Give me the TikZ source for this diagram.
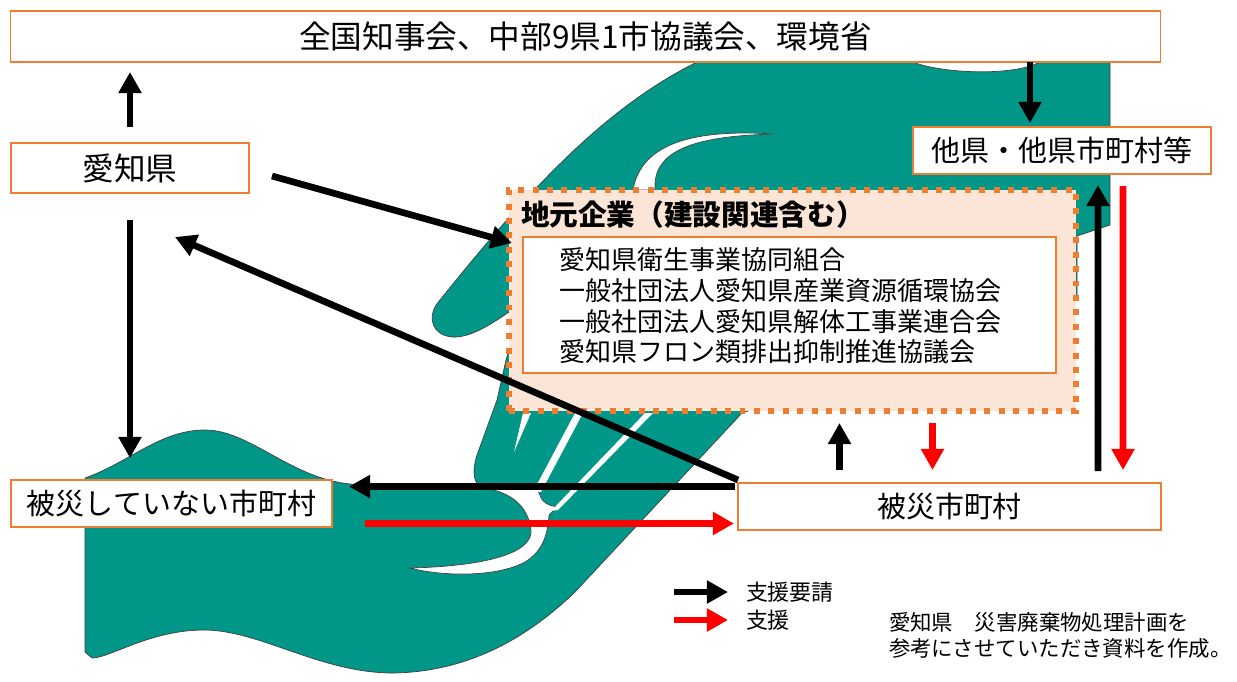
\documentclass[tikz,border=0pt]{standalone}
\usepackage{fontspec}
\setmainfont{Noto Sans CJK JP}
\usetikzlibrary{arrows.meta, calc, positioning}
\usepackage{xcolor}

\newlength{\unitpx}
\setlength{\unitpx}{0.02cm}

\definecolor{handteal}{RGB}{0,150,136}
\definecolor{boxorange}{RGB}{237,125,49}
\definecolor{localfill}{RGB}{251,229,214}

\tikzset{
  orgbox/.style={draw=boxorange, fill=white, line width=1pt, inner sep=0pt, outer sep=0pt,
    font=\fontsize{16.5}{18}\selectfont},
  reqarrow/.style={-{Triangle[length=12pt, width=12.5pt]}, line width=3.8pt, draw=black},
  aidarrow/.style={reqarrow, draw=red},
  hand/.style={fill=handteal, draw=black!75, line width=0.4pt},
  plain/.style={anchor=west, inner sep=0pt, outer sep=0pt}
}

\begin{document}
\begin{tikzpicture}[x=0.02cm, y=-0.02cm, >=Stealth]
  \useasboundingbox (0,0) rectangle (1237,681);

  \filldraw[hand] (697,62) -- (1110,62) -- (1110,225) -- (1077,236) -- (1077,300)
    -- (742,413) -- (575,592) .. controls (520,645) and (460,672) .. (393,673)
    .. controls (320,673) and (260,630) .. (204,630)
    .. controls (150,630) and (110,658) .. (92,658) -- (85,652) -- (85,478)
    .. controls (130,462) and (160,430) .. (205,430)
    .. controls (250,430) and (290,478) .. (350,484)
    -- (470,489) -- (482,487) .. controls (473,484) and (472,470) .. (477,455)
    -- (497,400) -- (506,360) -- (515,330) -- (509,312)
    .. controls (490,325) and (470,338) .. (452,337)
    .. controls (432,335) and (428,318) .. (436,305)
    .. controls (520,200) and (600,110) .. (697,62) -- cycle;
  \filldraw[hand, fill=white] (633,190) .. controls (640,150) and (680,128) .. (774,134)
    .. controls (700,136) and (652,148) .. (655,190) -- cycle;
  \filldraw[hand, fill=white] (913,62) .. controls (940,73) and (1012,77) .. (1040,62) -- cycle;
  \filldraw[hand, fill=white] (484,488) .. controls (510,492) and (528,505) .. (531,530)
    .. controls (533,552) and (490,566) .. (410,568)
    .. controls (440,576) and (495,578) .. (525,562)
    .. controls (545,550) and (548,530) .. (549,515) -- (557,507)
    .. controls (548,505) and (542,503) .. (540,495) -- (536,487) -- cycle;
  \fill[white] (514,452) -- (523,413) -- (531,413) -- cycle;
  \fill[white] (533,492) -- (575,413) -- (583,413) -- (541,492) -- cycle;
  \fill[white] (551,511) -- (645,413) -- (653,413) -- (558,510) -- cycle;

  \node[orgbox, minimum width=1150\unitpx, minimum height=51\unitpx,
    font=\fontsize{18}{20}\selectfont] (zenkoku) at (585.5,36.5) {全国知事会、中部9県1市協議会、環境省};
  \node[orgbox, line width=1.6pt, minimum width=238\unitpx, minimum height=50\unitpx,
    font=\fontsize{18}{20}\selectfont] (pref) at (130,168) {愛知県};
  \node[orgbox, minimum width=298\unitpx, minimum height=47\unitpx] (tapref) at (1062,150.5) {他県・他県市町村等};
  \node[orgbox, minimum width=321\unitpx, minimum height=47\unitpx] (safe) at (171.5,503.5) {被災していない市町村};
  \node[orgbox, minimum width=423\unitpx, minimum height=47\unitpx] (hisai) at (949.5,506.5) {被災市町村};

  \node[draw=boxorange, fill=localfill, line width=3.4pt, dash pattern=on 3.4pt off 4.8pt,
    minimum width=567\unitpx, minimum height=221\unitpx, inner sep=0pt, outer sep=0pt] (local) at (792.5,300.5) {};
  \node[plain, font=\bfseries\fontsize{16.3}{18}\selectfont] (localtitle) at (521,215) {地元企業（建設関連含む）};
  \node[orgbox, minimum width=533\unitpx, minimum height=136\unitpx] (member) at (789.5,305) {};
  \node[plain, align=left, font=\fontsize{14.8}{17.4}\selectfont] (memberlist) at (559,306)
    {愛知県衛生事業協同組合\\一般社団法人愛知県産業資源循環協会\\一般社団法人愛知県解体工事業連合会\\愛知県フロン類排出抑制推進協議会};

  \draw[reqarrow] ($(pref.north)+(0,-16)$) -- ($(pref.north |- zenkoku.south)+(0,10)$);
  \draw[reqarrow] ($(zenkoku.south -| tapref.north)+(-32,0)$) -- ($(tapref.north)+(-32,-4)$);
  \draw[reqarrow] ($(pref.south)+(0,27)$) -- ($(pref.south |- safe.north)+(0,-22)$);
  \draw[reqarrow] ($(pref.east)+(23,8)$) -- ($(local.north west)+(3,53)$);
  \draw[reqarrow] ($(hisai.north west)+(0,-3)$) -- ($(pref.south east)+(-74,44)$);
  \draw[reqarrow] ($(hisai.west)+(-3,-20)$) -- ($(safe.east)+(17,-17)$);
  \draw[aidarrow] ($(safe.east)+(33,20)$) -- ($(hisai.west)+(-4,17)$);
  \draw[reqarrow] ($(hisai.north)+(-110,-13)$) -- ($(local.south)+(47,12)$);
  \draw[aidarrow] ($(local.south)+(140,12)$) -- ($(hisai.north)+(-17,-13)$);
  \draw[reqarrow] ($(hisai.north east)+(-63,-12)$) -- ($(tapref.south)+(36,11)$);
  \draw[aidarrow] ($(tapref.south)+(61,12)$) -- ($(hisai.north east)+(-38,-13)$);

  \node[plain, font=\fontsize{12.5}{14}\selectfont] (legreq) at (746,592) {支援要請};
  \node[plain, font=\fontsize{12.5}{14}\selectfont] (legaid) at (746,620) {支援};
  \draw[reqarrow] ($(legreq.west)+(-72,0)$) -- ($(legreq.west)+(-18,0)$);
  \draw[aidarrow] ($(legaid.west)+(-72,0)$) -- ($(legaid.west)+(-18,0)$);

  \node[plain, align=left, font=\fontsize{12.2}{14.7}\selectfont] (note) at (889,635)
    {愛知県　災害廃棄物処理計画を\\参考にさせていただき資料を作成。};
\end{tikzpicture}
\end{document}
